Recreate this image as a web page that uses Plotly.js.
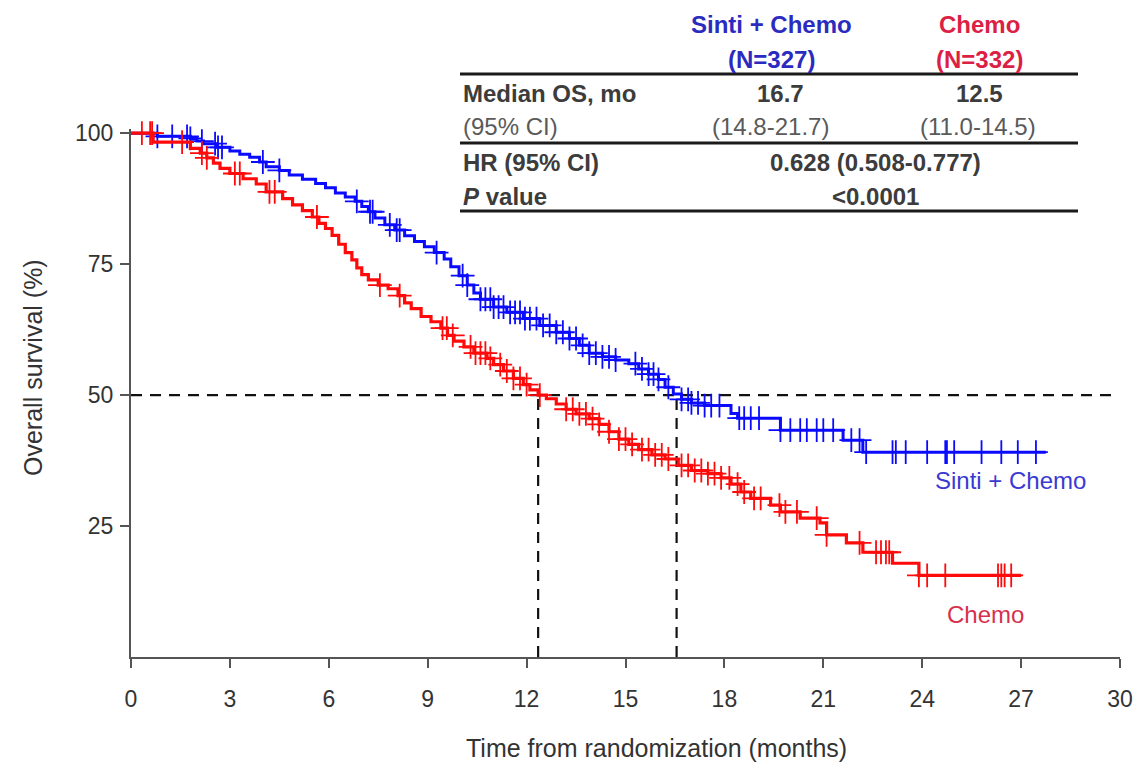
<!DOCTYPE html>
<html>
<head>
<meta charset="utf-8">
<script src="https://cdn.plot.ly/plotly-3.0.1.min.js"></script>
<style>html,body{margin:0;padding:0;background:#fff;}#chart{width:1138px;height:762px;}</style>
</head>
<body>
<div id="chart"></div>
<script>
// ---- Data ----
const blueName = "Sinti + Chemo";
const redName = "Chemo";
const blueTime = [0, 0.8, 1.8, 2.0, 2.2, 2.6, 3.0, 3.3, 3.6, 3.9, 4.1, 4.5, 4.8, 5.2, 5.6, 5.9, 6.2, 6.5, 6.8, 7.0, 7.2, 7.4, 7.7, 8.0, 8.3, 8.6, 8.9, 9.2, 9.5, 9.7, 9.95, 10.2, 10.4, 10.6, 11.0, 11.4, 11.9, 12.4, 12.9, 13.3, 13.6, 13.9, 14.3, 14.7, 15.1, 15.4, 15.7, 16.0, 16.2, 16.45, 16.7, 17.0, 17.4, 18.2, 18.4, 19.7, 21.6, 22.2, 27.75];
const blueSurv = [100, 99.4, 99.0, 98.5, 98.0, 97.3, 96.6, 96.0, 95.4, 94.5, 93.6, 92.9, 92.0, 91.2, 90.4, 89.6, 88.6, 87.8, 87.0, 86.0, 85.0, 83.8, 82.5, 81.5, 80.4, 79.3, 78.3, 77.2, 76.0, 74.5, 72.8, 71.0, 69.5, 68.3, 66.8, 65.8, 64.6, 63.3, 62.0, 60.8, 59.5, 58.0, 57.3, 56.7, 56.0, 55.0, 54.0, 53.0, 51.5, 50.2, 49.2, 48.5, 48.0, 46.5, 45.6, 43.3, 41.4, 39.1, 39.1];
const redTime = [0, 0.67, 1.8, 2.1, 2.3, 2.5, 2.7, 3.0, 3.4, 3.8, 4.1, 4.6, 4.9, 5.2, 5.5, 5.7, 5.9, 6.1, 6.3, 6.5, 6.7, 6.85, 7.0, 7.2, 7.5, 7.8, 8.1, 8.3, 8.5, 8.8, 9.1, 9.4, 9.6, 9.8, 10.1, 10.4, 10.8, 11.0, 11.3, 11.6, 11.9, 12.1, 12.35, 12.6, 12.9, 13.2, 13.5, 13.9, 14.2, 14.5, 14.8, 15.1, 15.4, 15.8, 16.2, 16.6, 17.0, 17.5, 17.9, 18.2, 18.5, 18.8, 19.4, 19.7, 20.3, 20.9, 21.1, 21.7, 22.2, 23.1, 23.9, 27.0];
const redSurv = [100, 98.3, 97.1, 96.2, 95.3, 94.3, 93.3, 92.3, 91.3, 90.3, 88.8, 87.5, 86.3, 85.2, 84.0, 82.8, 81.8, 80.5, 78.8, 77.2, 75.8, 74.3, 73.0, 72.0, 71.0, 70.3, 69.0, 67.6, 66.5, 65.0, 64.0, 62.8, 61.4, 60.3, 59.2, 58.0, 57.0, 55.8, 54.6, 53.2, 52.0, 51.0, 50.0, 49.3, 48.3, 47.3, 46.4, 45.5, 44.4, 43.0, 41.6, 40.6, 39.6, 38.6, 37.8, 36.6, 35.6, 35.0, 34.2, 33.0, 31.5, 30.3, 29.0, 27.7, 26.5, 25.6, 23.3, 21.8, 20.0, 17.9, 15.6, 15.6];
const blueCensor = [0.8, 1.25, 1.7, 1.8, 2.15, 2.55, 2.64, 2.76, 4.0, 4.5, 6.85, 7.25, 7.33, 7.85, 8.06, 8.15, 9.27, 10.06, 10.2, 10.6, 10.75, 10.9, 11.0, 11.15, 11.3, 11.5, 11.65, 11.8, 11.95, 12.1, 12.3, 12.5, 12.7, 12.9, 13.1, 13.3, 13.5, 13.7, 13.9, 14.1, 14.3, 14.5, 14.7, 15.3, 15.5, 15.7, 15.85, 16.0, 16.3, 16.7, 16.9, 17.0, 17.2, 17.4, 17.6, 17.85, 18.45, 18.6, 18.8, 19.05, 19.7, 20.0, 20.3, 20.5, 20.8, 21.0, 21.3, 21.85, 22.1, 22.3, 23.1, 23.2, 23.5, 24.15, 24.7, 24.75, 24.97, 25.8, 26.4, 26.9, 27.45];
const redCensor = [0.33, 0.58, 0.64, 1.55, 2.15, 2.3, 3.15, 3.3, 4.2, 4.36, 5.64, 7.55, 8.15, 9.45, 9.58, 9.76, 10.3, 10.45, 10.6, 10.75, 10.9, 11.2, 11.4, 11.6, 11.8, 12.0, 12.4, 13.2, 13.4, 13.6, 13.8, 14.0, 14.2, 14.5, 14.8, 15.0, 15.2, 15.5, 15.7, 15.9, 16.1, 16.3, 16.7, 16.9, 17.1, 17.3, 17.5, 17.7, 17.9, 18.15, 18.4, 18.6, 18.9, 19.1, 19.67, 19.85, 20.2, 20.8, 21.1, 22.1, 22.6, 22.75, 22.9, 23.0, 23.9, 24.15, 24.7, 26.3, 26.4, 26.5, 26.7];
const medianLevel = 50;
const medianLineEnd = 29.8;
const medianTimes = [12.35, 16.55];
const xTicks = [0, 3, 6, 9, 12, 15, 18, 21, 24, 27, 30];
const yTicks = [25, 50, 75, 100];
const tableHeader = ["Sinti + Chemo", "(N=327)", "Chemo", "(N=332)"];
const medianOS = ["16.7", "12.5"];
const medianCI = ["(14.8-21.7)", "(11.0-14.5)"];
const hrText = "0.628 (0.508-0.777)";
const pText = "&lt;0.0001";

// ---- Helpers ----
function stepAt(times, surv, t) {
  let s = surv[0];
  for (let i = 0; i < times.length; i++) { if (times[i] <= t) s = surv[i]; else break; }
  return s;
}
const FONT = "Liberation Sans, Arial, sans-serif";
const BLUE = "#0a0aff", RED = "#ff0a0a";
const L = 131, R = 1120, T = 129, B = 657;
const W = R - L, H = B - T;
const px = x => (x - L) / W;
const py = y => (B - y) / H;

const traces = [];
traces.push({x: [0, medianLineEnd], y: [medianLevel, medianLevel], mode: "lines", line: {color: "#111", width: 2.2, dash: "11px,8px"}, hoverinfo: "skip", showlegend: false});
medianTimes.forEach(m => traces.push({x: [m, m], y: [0, medianLevel], mode: "lines", line: {color: "#111", width: 2.2, dash: "11px,8px"}, hoverinfo: "skip", showlegend: false}));
traces.push({x: blueTime, y: blueSurv, mode: "lines", line: {shape: "hv", color: BLUE, width: 3}, name: blueName, showlegend: false});
traces.push({x: blueCensor, y: blueCensor.map(t => stepAt(blueTime, blueSurv, t)), mode: "markers", marker: {symbol: "cross-thin", size: 17, line: {color: BLUE, width: 1.8}}, showlegend: false, cliponaxis: false});
traces.push({x: redTime, y: redSurv, mode: "lines", line: {shape: "hv", color: RED, width: 3.2}, name: redName, showlegend: false});
traces.push({x: redCensor, y: redCensor.map(t => stepAt(redTime, redSurv, t)), mode: "markers", marker: {symbol: "cross-thin", size: 17, line: {color: RED, width: 1.8}}, showlegend: false, cliponaxis: false});

const hdrBlue = "#2b2bbf", hdrRed = "#dc1f45", txt = "#3c3c3c", txtLight = "#5a5a5a";
const TS = 24;
function ann(text, x, y, opts) {
  return Object.assign({text: text, xref: "paper", yref: "paper", x: px(x), y: py(y), showarrow: false, xanchor: "center", yanchor: "middle", font: {family: FONT, size: TS, color: txt}}, opts || {});
}
const annotations = [
  ann("<b>" + tableHeader[0] + "</b>", 771, 25, {font: {family: FONT, size: TS, color: hdrBlue}}),
  ann("<b>" + tableHeader[1] + "</b>", 771, 59, {font: {family: FONT, size: TS, color: hdrBlue}}),
  ann("<b>" + tableHeader[2] + "</b>", 979, 25, {font: {family: FONT, size: TS, color: hdrRed}}),
  ann("<b>" + tableHeader[3] + "</b>", 979, 59, {font: {family: FONT, size: TS, color: hdrRed}}),
  ann("<b>Median OS, mo</b>", 461, 94, {xanchor: "left"}),
  ann("<b>" + medianOS[0] + "</b>", 780, 94),
  ann("<b>" + medianOS[1] + "</b>", 979, 94),
  ann("(95% CI)", 461, 127, {xanchor: "left", font: {family: FONT, size: TS, color: txtLight}}),
  ann(medianCI[0], 770, 127, {font: {family: FONT, size: TS, color: txtLight}}),
  ann(medianCI[1], 978, 127, {font: {family: FONT, size: TS, color: txtLight}}),
  ann("<b>HR (95% CI)</b>", 461, 162, {xanchor: "left"}),
  ann("<b>" + hrText + "</b>", 875, 162),
  ann("<b><i>P</i> value</b>", 461, 196, {xanchor: "left"}),
  ann("<b>" + pText + "</b>", 875, 196),
  ann(blueName, 1010, 480, {font: {family: FONT, size: 24, color: "#3a3ad2"}}),
  ann(redName, 985, 614, {font: {family: FONT, size: 24, color: "#d8304e"}}),
  ann("Overall survival (%)", 33, 368, {textangle: -90, font: {family: FONT, size: 25, color: "#333"}}),
  ann("Time from randomization (months)", 656, 748, {font: {family: FONT, size: 25, color: "#333"}})
];
const shapes = [74, 143, 211].map(y => ({type: "line", xref: "paper", yref: "paper", x0: px(460), x1: px(1078), y0: py(y), y1: py(y), line: {color: "#1a1a1a", width: 3}}));

const layout = {
  width: 1138, height: 762,
  margin: {l: L, r: 1138 - R, t: T, b: 762 - B, pad: 0},
  paper_bgcolor: "#fff", plot_bgcolor: "#fff",
  showlegend: false,
  font: {family: FONT, size: 23, color: "#333"},
  xaxis: {range: [0, 30], tickvals: xTicks, ticktext: xTicks.map(String), showline: true, linecolor: "#555", linewidth: 2, ticks: "outside", ticklen: 9, tickwidth: 2, tickcolor: "#555", showgrid: false, zeroline: false, tickfont: {family: FONT, size: 23, color: "#333"}, ticklabelstandoff: 11},
  yaxis: {range: [0, 100.8], tickvals: yTicks, ticktext: yTicks.map(String), showline: true, linecolor: "#555", linewidth: 2, ticks: "outside", ticklen: 9, tickwidth: 2, tickcolor: "#555", showgrid: false, zeroline: false, tickfont: {family: FONT, size: 23, color: "#333"}, ticklabelstandoff: 2},
  annotations: annotations,
  shapes: shapes
};
Plotly.newPlot("chart", traces, layout, {displayModeBar: false, staticPlot: true});
</script>
</body>
</html>
